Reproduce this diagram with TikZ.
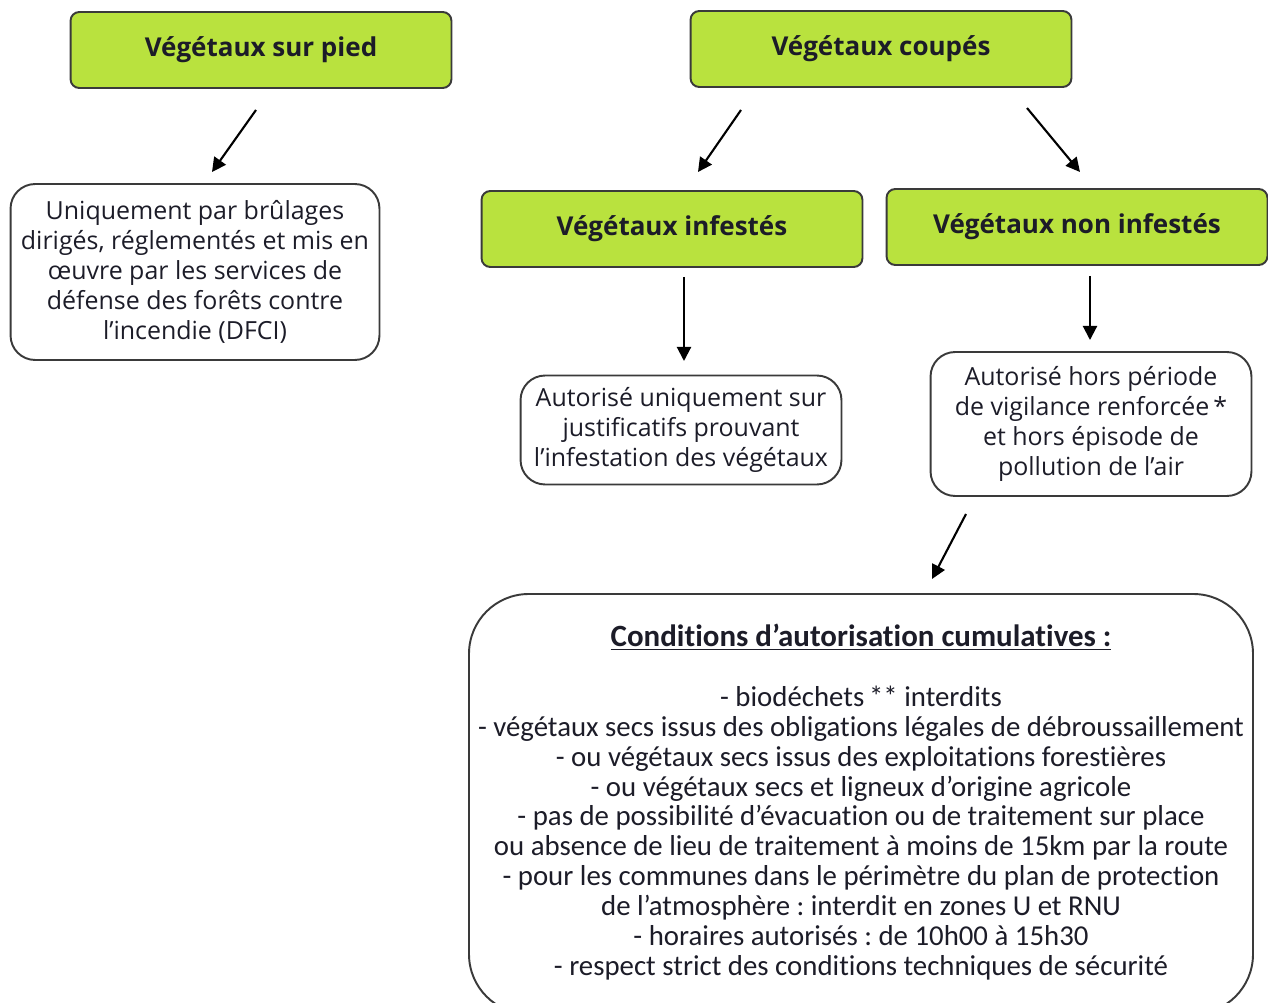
\documentclass[tikz,border=0pt]{standalone}
\usepackage{fontspec}
\setmainfont{Open Sans}
\newfontfamily\calib[Ligatures = NoCommon]{Carlito}
\usetikzlibrary{arrows.meta}
\definecolor{vert}{HTML}{B9E23E}
\definecolor{bord}{HTML}{3A3A3A}
\definecolor{encre}{HTML}{1C1C28}
\frenchspacing

\begin{document}
\begin{tikzpicture}[x = 0.02cm, y = -0.02cm, text = encre,
    titre/.style = {draw = bord, line width = 1.1pt, fill = vert, rounded corners = 5pt, minimum width = 7.62cm, minimum height = 1.52cm, font = \bfseries\fontsize{14.8}{17}\selectfont},
    boite/.style = {draw = bord, line width = 1.1pt, rounded corners = 14pt, align = center, font = \fontsize{14.2}{17}\selectfont},
    fleche/.style = {line width = 1.2pt, -{Triangle[length = 8pt, width = 8pt]}}]
    \useasboundingbox (0,0) rectangle (1268,1003);
    \node[titre] (surpied) at (261,50) {Végétaux sur pied};
    \node[titre] (coupes) at (881,49) {Végétaux coupés};
    \node[titre] (infestes) at (672,229) {Végétaux infestés};
    \node[titre] (noninfestes) at (1077,227) {Végétaux non infestés};
    \node[boite, minimum width = 7.38cm, minimum height = 3.52cm] (dfci) at (195,272) {Uniquement par brûlages\\dirigés, réglementés et mis en\\œuvre par les services de\\défense des forêts contre\\l’incendie (DFCI)};
    \node[boite, minimum width = 6.42cm, minimum height = 2.18cm] (justif) at (681,430) {Autorisé uniquement sur\\justificatifs prouvant\\l’infestation des végétaux};
    \node[boite, minimum width = 6.42cm, minimum height = 2.88cm] (vigilance) at (1091,424) {Autorisé hors période\\de vigilance renforcée\,*\\et hors épisode de\\pollution de l’air};
    \draw[bord, line width = 1.1pt, rounded corners = 34pt] (469,594) rectangle (1253,1014);
    \node[font = \calib\fontsize{16.4}{17}\selectfont, align = center, anchor = north] (conditions) at (861,618) {{\fontsize{17.6}{17}\selectfont\textbf{\underline{Conditions d’autorisation cumulatives :}}}\\[17pt]
        - biodéchets\,** interdits\\
        - végétaux secs issus des obligations légales de débroussaillement\\
        - ou végétaux secs issus des exploitations forestières\\
        - ou végétaux secs et ligneux d’origine agricole\\
        - pas de possibilité d’évacuation ou de traitement sur place\\
        ou absence de lieu de traitement à moins de 15km par la route\\
        - pour les communes dans le périmètre du plan de protection\\
        de l’atmosphère : interdit en zones U et RNU\\
        - horaires autorisés : de 10h00 à 15h30\\
        - respect strict des conditions techniques de sécurité};
    \coordinate (d1) at (256,110);
    \coordinate (f1) at (212,172);
    \coordinate (d2) at (741,110);
    \coordinate (f2) at (698,172);
    \coordinate (d3) at (1027,108);
    \coordinate (f3) at (1080,172);
    \coordinate (d4) at (684,277);
    \coordinate (f4) at (684,361);
    \coordinate (d5) at (1090,276);
    \coordinate (f5) at (1090,340);
    \coordinate (d6) at (966,514);
    \coordinate (f6) at (932,579);
    \draw[fleche] (d1) -- (f1);
    \draw[fleche] (d2) -- (f2);
    \draw[fleche] (d3) -- (f3);
    \draw[fleche] (d4) -- (f4);
    \draw[fleche] (d5) -- (f5);
    \draw[fleche] (d6) -- (f6);
\end{tikzpicture}
\end{document}
